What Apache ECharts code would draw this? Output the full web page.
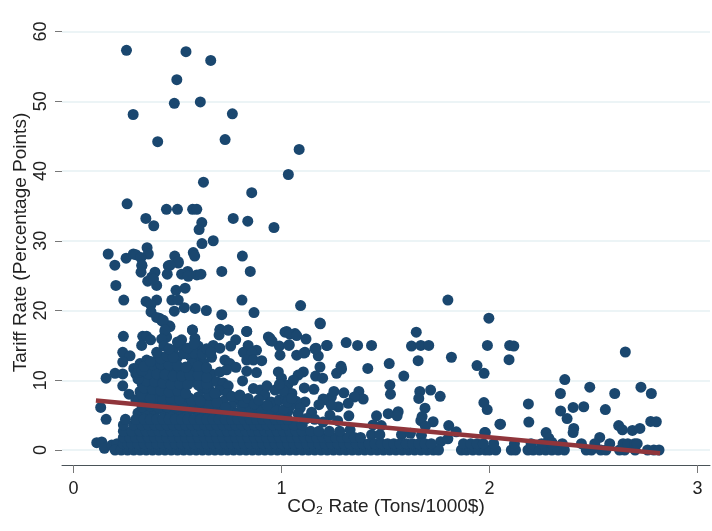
<!DOCTYPE html>
<html>
<head>
    <meta charset="utf-8">
    <title>Tariff rate vs CO2 rate</title>
    <script src="https://cdn.jsdelivr.net/npm/echarts@6/dist/echarts.min.js"></script>
    <style>
        html, body { margin: 0; padding: 0; background: #fff; }
        #chart { width: 712px; height: 531px; }
    </style>
</head>
<body>
<div id="chart"></div>
<script>
    var xTicks = [0, 1, 2, 3];
    var yTicks = [0, 10, 20, 30, 40, 50, 60];
    var xTitle = 'CO₂ Rate (Tons/1000$)';
    var yTitle = 'Tariff Rate (Percentage Points)';

    // fitted line, end points
    var fitX = [0.108, 2.82];
    var fitY = [7.1, -0.48];

    // isolated points above the main cloud
    var topPoints = [
        [.255,57.3],[.541,57.1],[.66,55.85],[.497,53.1],[.485,49.7],[.61,49.9],[.287,48.1],[.764,48.2],
        [.405,44.2],[.729,44.5],[1.085,43.1],[1.033,39.5],[.625,38.4],[.857,36.9],[.258,35.3],[.447,34.5],
        [.5,34.5],[.573,34.5],[.593,34.5],[.348,33.2],[.386,32.15],[.617,32.6],[.604,31.6],[.768,33.2],
        [.838,32.8],[.964,31.9],[.672,30],[.618,29.6],[.354,29],[.167,28.1],[.36,28.1],[.253,27.5],
        [.288,28.1],[.3,28],[.324,27.6],[.487,27.8],[.576,28.3],[.583,27.8],[.812,27.8],[.199,26.5],
        [.329,26.5],[.456,26.4],[.504,26.8],[.504,27],[.465,26.5],[.329,26.4],[.325,25.5],[.392,25.5],
        [.376,24.8],[.357,24.2],[.4,23.6],[.385,24.5],[.204,23.6],[.242,21.5],[.451,25.2],[.713,25.6],
        [.85,25.6],[.52,25.2],[.549,25.6],[.552,24.9],[.593,25.1],[.613,25.2],[.537,23.2],[.493,22.9],
        [.473,21.5],[.504,21.5],[.349,21.3],[.4,21.5],[.372,20.8],[.533,20.4],[.585,20.3],[.639,20],
        [.485,19.9],[.713,19.4],[.81,21.5],[.868,19.7],[1.092,20.7],[1.185,18.2],[.373,19.8],[.4,19],
        [.425,18.5],[.461,17.8],[.44,17],[.572,17.2],[.705,17.3],[.745,17.2],[.833,17],[1.025,17],[1.065,16.7]
    ];

    // middle of the cloud, left part
    var midLeft = [
        [.24,16.3],[.333,16.3],[.352,16.3],[.371,15.8],[.328,15],[.237,14],[.272,13.5],[.237,12.6],
        [.157,10.3],[.2,11],[.237,10.9],[.237,9.2],[.267,8],[.131,6.1],[.157,4.4],[.32,12.4],[.352,12.9],
        [.307,11.5],[.32,10.75],[.416,13.4],[.48,14.3],[.448,16.2],[.464,17.7],[.413,18.9],[.432,18.6],
        [.44,17.2],[.424,15.9],[.435,14.9],[.52,15.8],[.572,17.2],[.584,16],[.6,14.9],[.52,14.9],[.5,15.5],
        [.664,13.3],[.672,15],[.704,14.6],[.704,17.2],[.744,17.2],[.7,16.5],[.78,15.8],[.756,14.9],
        [.395,12.6],[.44,13],[.47,12.9],[.5,13.3],[.56,13.5],[.6,13.1],[.625,12.5],[.57,12.4],[.48,12],
        [.36,11.8],[.39,11.6],[.43,11.7],[.47,11],[.51,11.2],[.55,11.3],[.59,11.4],[.63,11.1],[.665,10.9],
        [.34,10.5],[.38,10.4],[.42,10.3],[.46,9.9],[.5,10.1],[.54,10],[.58,10.2],[.62,9.9],[.655,9.6],
        [.29,11.7],[.3,10.9],[.33,9.5],[.37,9.3],[.41,9.1],[.45,8.8],[.49,9],[.53,8.8],[.62,8.7],[.66,8.4],
        [.32,8.4],[.36,8.2],[.4,8],[.44,7.7],[.48,7.9],[.52,7.7],[.555,7.5],[.6,7.6],[.64,7.3],[.68,7.4],
        [.3,7.2],[.34,7],[.38,7],[.42,6.8],[.46,6.6],[.5,6.8],[.54,6.5],[.58,6.6],[.62,6.3],[.66,6.2],[.7,6.3],
        [.688,9.8],[.72,9.6],[.744,9.2],[.7,8.5],[.74,8.1],[.78,7.2],[.72,7],[.76,6.3]
    ];

    // filler for the solid part of the cloud
    var midFill = [
        [.31,5.3],[.35,5.6],[.39,5.4],[.43,5.7],[.47,5.3],[.51,5.6],[.55,5.4],[.59,5.7],[.63,5.3],[.67,5.5],[.71,5.3],[.75,5.5],[.79,5.3],[.83,5.5],[.87,5.4],[.91,5.3],[.95,5.5],[.99,5.3],[1.03,5.5],
        [.33,6.2],[.37,6.3],[.41,6.1],[.45,6.2],[.49,6.1],[.53,6.2],[.57,6],[.61,6.1],[.65,6.4],[.69,6.8],[.73,6.1],[.81,6.3],[.85,6.1],[.89,6],[.97,6.2],
        [.35,7.7],[.39,7.5],[.43,7.3],[.47,7.4],[.51,7.3],[.57,7.1],[.61,7],[.65,7.9],[.76,7.7],[.82,6.8],[.33,7.9],[.37,7.4],
        [.34,8.9],[.38,8.7],[.42,8.5],[.46,8.3],[.5,8.5],[.54,8.1],[.64,8.9],[.68,8.1],[.35,9.9],[.39,9.8],[.43,9.6],[.47,9.4],[.51,9.5],[.55,9.4],[.6,9.3],[.64,9.5],
        [.31,10.2],[.36,10.9],[.4,10.9],[.44,10.8],[.48,10.6],[.52,10.6],[.56,10.7],[.6,10.7],[.64,10.4],[.31,11.1],[.33,11.4],[.38,12.2],[.42,12.3],[.46,12.2],[.5,12.1],[.54,11.9],[.6,12],[.64,11.8],
        [.34,12],[.37,12.7],[.42,13.1],[.45,13.5],[.48,13.3],[.53,13.8],[.58,13.9],[.62,13.8],[.4,14],[.46,14.5],[.55,14.6],[.58,15.2],[.64,14.5],[.66,14]
    ];

    // middle of the cloud, right part
    var midRight = [
        [.833,17],[.937,16.2],[.948,15.7],[.99,14.9],[1.037,15.1],[.993,13.6],[1.073,13.6],[.84,15],[.88,14.3],
        [.817,14],[.857,13.9],[.833,12.9],[.865,12.9],[.905,12.8],[.728,12.9],[.752,12.4],[.781,11.85],
        [.704,11.2],[.736,11.5],[.833,11.3],[.88,11.1],[.813,9.9],[.865,8.8],[.897,8.6],[.93,9.2],[.969,8.6],
        [.92,7.9],[.985,11.2],[1,10.3],[1.03,9.3],[1.05,8.1],[.8,7.9],[.84,7.4],[.905,5.7],[.945,16],[.955,15.6],
        [1.017,16.9],[1.04,16.6],[1.073,16.4],[1.118,15.9],[1.217,15],[1.166,14.6],[1.177,13.5],[1.113,14],
        [1.185,11.9],[1.164,10.6],[1.198,10.3],[1.265,11],[1.11,8.9],[1.156,8.7],[1.105,11.2],[1.08,10.75],
        [1.057,10],[1.113,6.9],[1.21,7.2],[1.24,7.6],[1.108,13.9],[1.161,14.5],[1.187,18.1],[1.036,15],
        [1.22,15],[1.311,15.4],[1.366,15],[1.433,15],[1.286,12],[1.289,11.6],[1.252,8.4],[1.372,8.4],[1.393,7.3],
        [1.35,7.6],[1.321,6.7],[1.3,8.2],[1.2,7.3],[1.273,6.2],[1.24,6.4],[1.324,4.9],[1.233,5],[1.145,5.4],
        [1.07,7],[1.09,6],[1.04,6.2],[1.18,6.5],[1.16,4.4],[1.2,4],[1.27,4.2],[.95,6.9],[.99,7.2],[.87,6.6],
        [.93,6.4],[1.01,5.8],[1.02,7.2],[1.03,6.9],[1.05,7.4],[1.01,8.5],[.99,9.4],[1.08,5.2],[1.12,4.5],[.89,7.2]
    ];

    // sparse right hand points
    var farPoints = [
        [1.8,21.5],[1.997,18.9],[1.648,16.9],[1.625,14.9],[1.67,15],[1.708,15],[1.99,15],[2.097,15],[2.117,14.9],
        [2.094,12.95],[1.657,12.8],[1.817,13.3],[1.94,12.1],[1.974,11],[1.518,12.4],[1.415,11.7],[1.588,10.6],
        [1.521,9.3],[1.524,8],[1.665,8.4],[1.66,7.4],[1.717,8.6],[1.763,7.7],[1.973,6.8],[1.989,5.8],[1.69,6],
        [1.676,4.8],[1.67,4.2],[1.729,4.05],[1.692,3.4],[1.804,3.5],[1.84,2.6],[1.98,2.5],[2.05,3.7],[1.513,5.2],
        [1.561,5.5],[1.556,4.9],[1.457,4.9],[1.44,3.6],[1.48,3.5],[2.653,14.05],[2.362,10.1],[2.482,9],[2.341,8.1],
        [2.602,8.1],[2.728,9],[2.778,8.1],[2.187,6.6],[2.402,6.1],[2.453,6.2],[2.557,5.8],[2.342,5.6],[2.373,4.5],
        [2.189,4],[2.053,3.7],[1.977,2.5],[2.775,4.1],[2.802,4.05],[2.405,3.1],[2.402,2.5],[2.621,3.5],[2.639,2.9],
        [2.687,2.8],[2.723,3.1],[2.272,2.5],[2.285,1.7],[2.3,1.1],[2.53,1.8],[1.33,2.9],[1.433,2.2],[1.473,2.2],
        [1.577,2.2],[1.62,2.4],[1.673,2.1],[1.765,1.2],[1.8,1.6],[.112,1.05],[.136,1.15],[.149,.25],[.184,.7],[.21,.9]
    ];

    // solid band along the bottom, one x list per row
    var bandY = [0, 0.9, 1.8, 2.7, 3.6, 4.4];
    var bandX = [
        [.2,.23,.26,.29,.32,.35,.38,.41,.44,.47,.5,.53,.56,.59,.62,.65,.68,.71,.74,.77,.8,.83,.86,.89,.92,.95,.98,1.01,1.04,1.07,1.1,1.13,1.16,1.19,1.22,1.25,1.28,1.31,1.34,1.37,1.4,1.43,1.46,1.49,1.52,1.55,1.58,1.61,1.64,1.67,1.7,1.73,1.755,1.865,1.89,1.92,1.95,1.98,2,2.03,2.105,2.125,2.185,2.21,2.24,2.27,2.3,2.33,2.36,2.465,2.49,2.535,2.56,2.625,2.65,2.7,2.76,2.79,2.815],
        [.24,.26,.28,.31,.34,.37,.4,.43,.46,.49,.52,.55,.58,.61,.64,.67,.7,.73,.76,.79,.82,.85,.88,.91,.94,.97,1,1.03,1.06,1.09,1.12,1.15,1.18,1.21,1.24,1.27,1.3,1.33,1.36,1.39,1.42,1.45,1.48,1.51,1.54,1.57,1.6,1.63,1.66,1.69,1.72,1.875,1.91,1.94,1.97,2.02,2.12,2.2,2.25,2.3,2.35,2.442,2.506,2.578,2.642,2.665,2.698,2.71],
        [.24,.27,.3,.33,.36,.39,.42,.45,.48,.51,.54,.57,.6,.63,.66,.69,.72,.75,.78,.81,.84,.87,.9,.93,.96,.99,1.02,1.05,1.08,1.11,1.14,1.17,1.2,1.23,1.26,1.29,1.32,1.35,1.38],
        [.24,.28,.32,.35,.38,.41,.44,.47,.5,.53,.56,.59,.62,.65,.68,.71,.74,.77,.8,.83,.86,.89,.92,.95,.98,1.01,1.04,1.07,1.1,1.14,1.18,1.23,1.28],
        [.24,.29,.33,.36,.39,.42,.45,.48,.51,.54,.57,.6,.63,.66,.69,.72,.75,.78,.81,.84,.87,.9,.93,.96,.99,1.02,1.06,1.1],
        [.25,.3,.34,.37,.4,.43,.46,.49,.52,.55,.58,.61,.64,.67,.7,.73,.76,.79,.82,.85,.88,.91,.94,.97,1,1.03]
    ];

    var allPoints = topPoints.concat(midLeft, midFill, midRight, farPoints);
    bandX.forEach(function (row, i) {
        row.forEach(function (x) {
            allPoints.push([x, bandY[i]]);
        });
    });

    var myChart = echarts.init(document.getElementById('chart'));
    myChart.setOption({
        animation: false,
        backgroundColor: '#ffffff',
        textStyle: { fontFamily: '"Liberation Sans", Arial, sans-serif' },
        grid: { left: 62, right: 2, top: 20, bottom: 66, outerBoundsMode: 'none' },
        xAxis: {
            type: 'value',
            min: -0.055,
            max: 3.06,
            name: xTitle,
            nameLocation: 'middle',
            nameGap: 32,
            nameMoveOverlap: false,
            nameTextStyle: { fontSize: 19, color: '#222' },
            axisLine: { onZero: false, lineStyle: { color: '#4a5358', width: 1 } },
            axisTick: { customValues: xTicks, length: 8, lineStyle: { color: '#777' } },
            axisLabel: { customValues: xTicks, fontSize: 18, color: '#222', margin: 15, formatter: '{value}' },
            splitLine: { show: false }
        },
        yAxis: {
            type: 'value',
            min: -2.15,
            max: 61.65,
            name: yTitle,
            nameLocation: 'middle',
            nameGap: 32,
            nameMoveOverlap: false,
            nameTextStyle: { fontSize: 19, color: '#222' },
            axisLine: { show: false, onZero: false },
            axisTick: { show: true, customValues: yTicks, length: 7, lineStyle: { color: '#777' } },
            axisLabel: { customValues: yTicks, fontSize: 18, color: '#222', rotate: 90, margin: 12, formatter: '{value}' },
            splitLine: { show: true, lineStyle: { color: '#e6f0f3', width: 1.5 } }
        },
        series: [
            {
                type: 'scatter',
                data: allPoints,
                symbolSize: 11,
                clip: false,
                itemStyle: { color: '#1a476f', opacity: 1 },
                z: 2
            },
            {
                type: 'line',
                data: [[fitX[0], fitY[0]], [fitX[1], fitY[1]]],
                symbol: 'none',
                lineStyle: { color: '#90353b', width: 4.5 },
                z: 3
            }
        ]
    });
</script>
</body>
</html>
